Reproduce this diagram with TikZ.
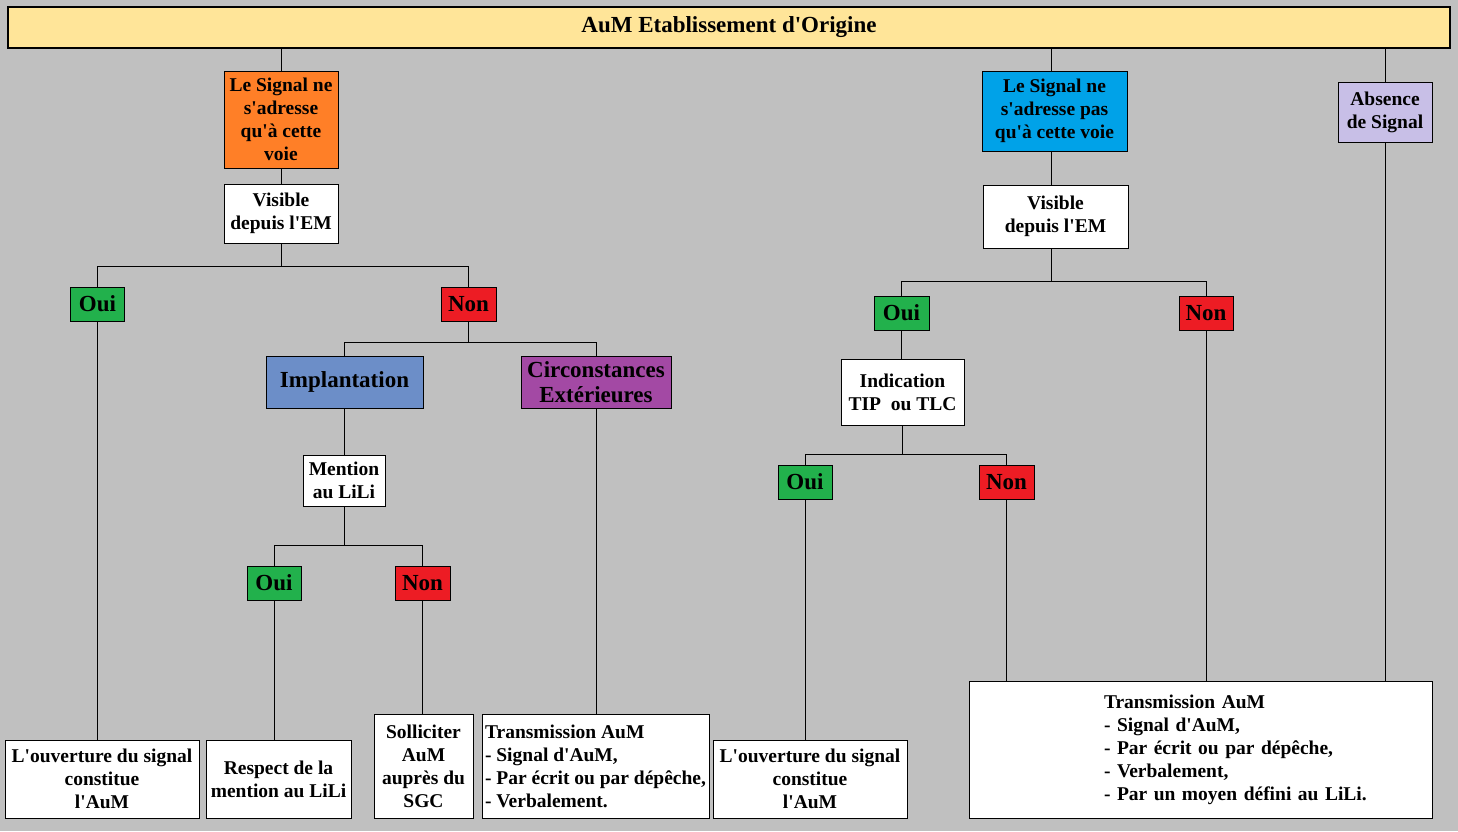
\documentclass[tikz,border=0pt]{standalone}
\usepackage{fontspec}
\setmainfont{Liberation Serif}[Ligatures=TeXOff]
\usetikzlibrary{positioning,calc}
\definecolor{fond}{RGB}{192,192,192}
\definecolor{jaune}{RGB}{255,229,153}
\definecolor{orange}{RGB}{255,127,39}
\definecolor{bleu}{RGB}{0,162,232}
\definecolor{lavande}{RGB}{200,191,231}
\definecolor{vert}{RGB}{34,177,76}
\definecolor{rouge}{RGB}{237,28,36}
\definecolor{acier}{RGB}{108,142,200}
\definecolor{violet}{RGB}{163,73,164}
\tikzset{
block/.style = {draw, fill=white, rectangle, align=center, inner sep=2pt, font=\bfseries\fontsize{19.5}{23}\selectfont},
headbox/.style = {draw, line width=2.5pt, fill=jaune, rectangle, inner sep=0pt, font=\bfseries\fontsize{23}{26}\selectfont},
answer/.style = {draw, rectangle, inner sep=0pt, minimum height=34pt, minimum width=54pt, font=\bfseries\fontsize{23}{26}\selectfont},
category/.style = {draw, rectangle, align=center, inner sep=0pt, minimum height=52pt, font=\bfseries\fontsize{23}{25}\selectfont}
}
\begin{document}
\begin{tikzpicture}[x=1pt, y=-1pt, line width=1pt]
    \fill [fond] (0,0) rectangle (1458,831);
    \useasboundingbox (0,0) rectangle (1458,831);

    \node [headbox, minimum width=1442pt, minimum height=41pt] (origine) at (729,27.5) {AuM Etablissement d'Origine};

    % branche gauche
    \node [block, fill=orange, minimum width=114pt, minimum height=97pt] (seule) at (281,119.5) {Le Signal ne\\s'adresse\\qu'à cette\\voie};
    \node [block, minimum width=114pt, minimum height=59pt] (visible1) at (281,213.5) {Visible\\depuis l'EM};
    \coordinate (fork1) at (281,266);
    \node [answer, fill=vert] (oui1) at (97.5,304) {Oui};
    \node [answer, fill=rouge, minimum width=55pt] (non1) at (468.5,304) {Non};
    \coordinate (fork2) at (468.5,342);
    \node [category, fill=acier, minimum width=157pt] (implant) at (344.5,382) {Implantation};
    \node [category, fill=violet, minimum width=150pt] (circ) at (596,382) {Circonstances\\Extérieures};
    \node [block, minimum width=82pt, minimum height=51pt] (mention) at (344,480.5) {Mention\\au LiLi};
    \coordinate (fork3) at (344,545);
    \node [answer, fill=vert] (oui2) at (274,583) {Oui};
    \node [answer, fill=rouge, minimum width=55pt] (non2) at (422.5,583) {Non};

    \node [block, minimum width=194pt, minimum height=78pt] (ouvert1) at (102,779) {L'ouverture du signal\\constitue\\l'AuM};
    \node [block, minimum width=145pt, minimum height=78pt] (respect) at (278.5,779) {Respect de la\\mention au LiLi};
    \node [block, minimum width=99pt, minimum height=104pt] (sollic) at (423.5,766) {Solliciter\\AuM\\auprès du\\SGC};
    \node [block, align=left, minimum width=227pt, minimum height=104pt] (trans1) at (595.5,766) {Transmission AuM\\- Signal d'AuM,\\- Par écrit ou par dépêche,\\- Verbalement.};

    % branche droite
    \node [block, fill=bleu, minimum width=145pt, minimum height=80pt] (pasSeule) at (1054.5,111) {Le Signal ne\\s'adresse pas\\qu'à cette voie};
    \node [block, minimum width=145pt, minimum height=63pt] (visible2) at (1055.5,216.5) {Visible\\depuis l'EM};
    \coordinate (fork4) at (1051,281);
    \node [answer, fill=vert, minimum width=55pt] (oui3) at (901.5,313) {Oui};
    \node [answer, fill=rouge] (non3) at (1206,313) {Non};
    \node [block, minimum width=123pt, minimum height=66pt] (indic) at (902.5,392) {Indication\\TIP~ ou TLC};
    \coordinate (fork5) at (902.5,454);
    \node [answer, fill=vert] (oui4) at (805,482) {Oui};
    \node [answer, fill=rouge, minimum width=55pt] (non4) at (1006.5,482) {Non};
    \node [block, fill=lavande, minimum width=94pt, minimum height=60pt] (absence) at (1385,112) {Absence\\de Signal};

    \node [block, minimum width=194pt, minimum height=78pt] (ouvert2) at (810,779) {L'ouverture du signal\\constitue\\l'AuM};
    \node [block, align=left, text width=453pt, inner xsep=5pt, minimum height=137pt, execute at begin node={\leftskip=130pt}] (trans2) at (1200.5,749.5) {Transmission AuM\\- Signal d'AuM,\\- Par écrit ou par dépêche,\\- Verbalement,\\- Par un moyen défini au LiLi.};

    % liaisons gauche
    \draw [-] (seule) -- (seule |- origine.south);
    \draw [-] (seule) -- (visible1);
    \draw [-] (visible1) -- (fork1);
    \draw [-] (fork1) -| (oui1);
    \draw [-] (fork1) -| (non1);
    \draw [-] (oui1) -- (oui1 |- ouvert1.north);
    \draw [-] (non1) -- (fork2);
    \draw [-] (fork2) -| (implant);
    \draw [-] (fork2) -| (circ);
    \draw [-] (implant) -- (implant |- mention.north);
    \draw [-] (mention) -- (fork3);
    \draw [-] (fork3) -| (oui2);
    \draw [-] (fork3) -| (non2);
    \draw [-] (oui2) -- (oui2 |- respect.north);
    \draw [-] (non2) -- (non2 |- sollic.north);
    \draw [-] (circ) -- (circ |- trans1.north);

    % liaisons droite
    \draw [-] (fork4 |- pasSeule.north) -- (fork4 |- origine.south);
    \draw [-] (fork4 |- pasSeule.south) -- (fork4 |- visible2.north);
    \draw [-] (fork4 |- visible2.south) -- (fork4);
    \draw [-] (fork4) -| (oui3);
    \draw [-] (fork4) -| (non3);
    \draw [-] (oui3) -- (oui3 |- indic.north);
    \draw [-] (indic) -- (fork5);
    \draw [-] (fork5) -| (oui4);
    \draw [-] (fork5) -| (non4);
    \draw [-] (oui4) -- (oui4 |- ouvert2.north);
    \draw [-] (non4) -- (non4 |- trans2.north);
    \draw [-] (non3) -- (non3 |- trans2.north);
    \draw [-] (absence) -- (absence |- origine.south);
    \draw [-] (absence) -- (absence |- trans2.north);
\end{tikzpicture}
\end{document}
